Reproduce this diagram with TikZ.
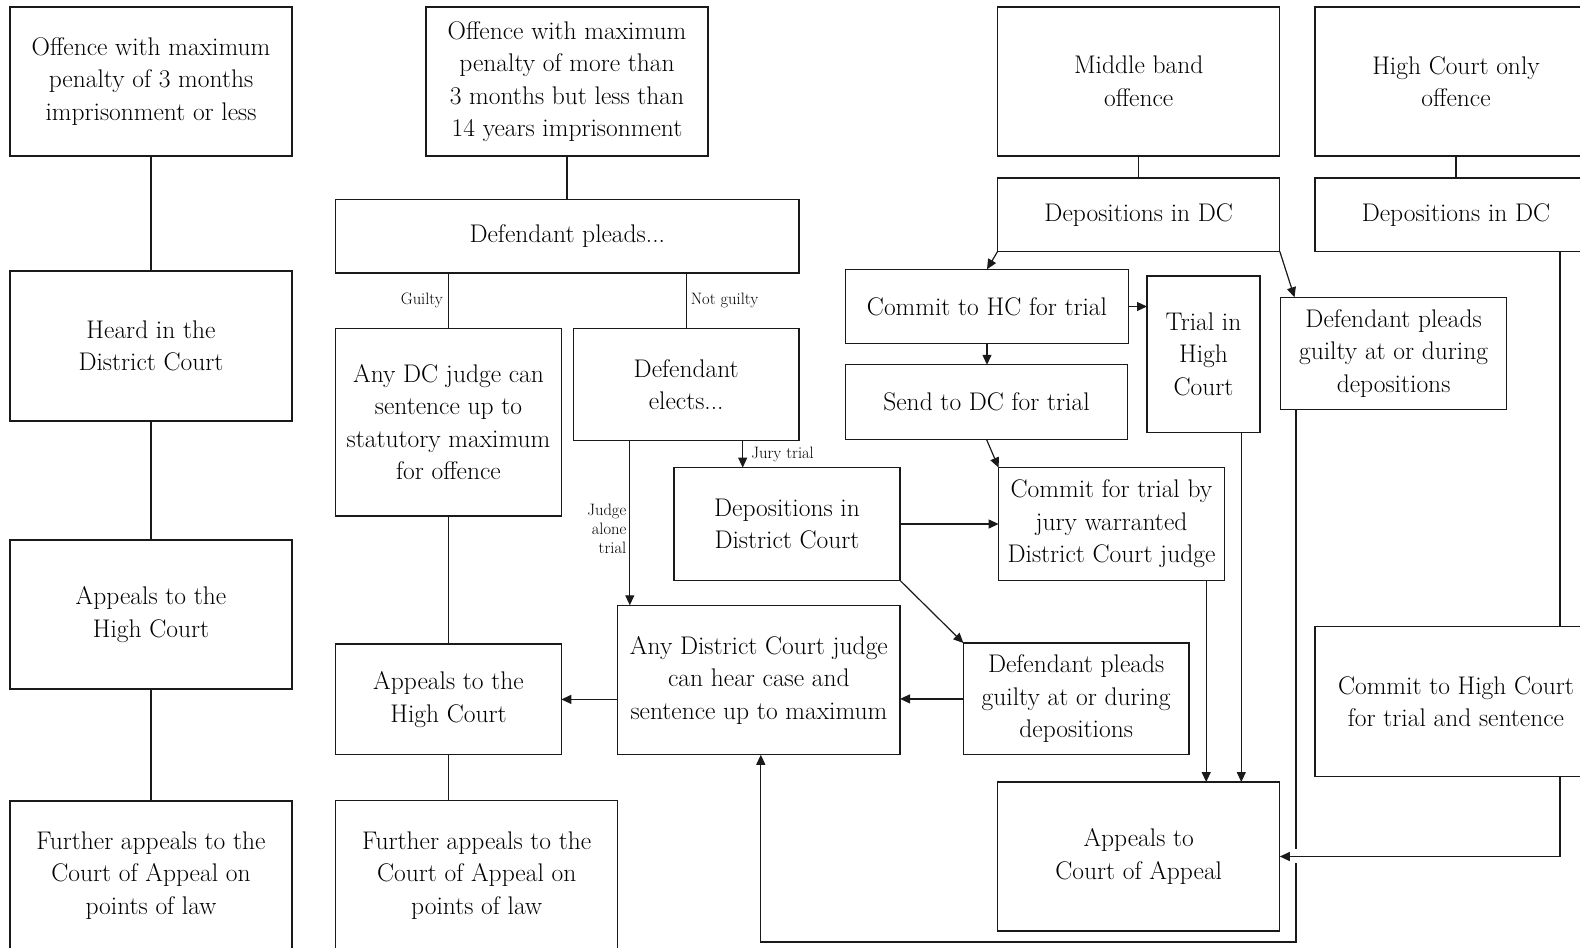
\documentclass[tikz,border=0pt]{standalone}
\usetikzlibrary{arrows.meta,calc}
\definecolor{ink}{HTML}{1A1A1A}
\begin{document}
\begin{tikzpicture}[x=1pt,y=-1pt,
  box/.style={draw=ink, line width=1.2pt, align=center, inner sep=0pt, outer sep=0pt,
    font=\fontsize{25.5}{32.5}\selectfont, text=black},
  lbl/.style={font=\fontsize{16.5}{18.7}\selectfont, text=black, align=right},
  con/.style={draw=ink, line width=1.2pt},
  arr/.style={con, -{Triangle[length=10pt,width=9pt]}}]
\fill[white] (0,0) rectangle (1580,948);
\useasboundingbox (0,0) rectangle (1580,948);
\clip (0,0) rectangle (1580,948);

% column A
\node[box, minimum width=282pt, minimum height=149pt] (A1) at (151,81.5) {Offence with maximum\\penalty of 3 months\\imprisonment or less};
\node[box, minimum width=282pt, minimum height=150pt] (A2) at (151,346) {Heard in the\\District Court};
\node[box, minimum width=282pt, minimum height=149pt] (A3) at (151,614.5) {Appeals to the\\High Court};
\node[box, minimum width=282pt, minimum height=149pt] (A4) at (151,875.5) {Further appeals to the\\Court of Appeal on\\points of law};

% column B
\node[box, minimum width=282pt, minimum height=149pt] (B1) at (567,81.5) {Offence with maximum\\penalty of more than\\3 months but less than\\14 years imprisonment};
\node[box, minimum width=463.4pt, minimum height=73.5pt] (B2) at (567.3,236.3) {Defendant pleads...};
\node[box, minimum width=225.7pt, minimum height=187.5pt] (B3) at (448.5,422.3) {Any DC judge can\\sentence up to\\statutory maximum\\for offence};
\node[box, minimum width=225.6pt, minimum height=112pt] (B4) at (686.2,384.5) {Defendant\\elects...};
\node[box, minimum width=225.7pt, minimum height=110.8pt] (B5) at (448.5,699.4) {Appeals to the\\High Court};
\node[box, minimum width=282pt, minimum height=150pt] (B6) at (476.7,875.5) {Further appeals to the\\Court of Appeal on\\points of law};

% column C
\node[box, minimum width=226pt, minimum height=112.8pt] (C1) at (787,524) {Depositions in\\District Court};
\node[box, minimum width=282.3pt, minimum height=149.5pt] (C2) at (758.9,680) {Any District Court judge\\can hear case and\\sentence up to maximum};
\node[box, minimum width=225.6pt, minimum height=111.8pt] (C3) at (1076.2,698.9) {Defendant pleads\\guilty at or during\\depositions};

% column D
\node[box, minimum width=282.2pt, minimum height=149pt] (D1) at (1138.7,81.5) {Middle band\\offence};
\node[box, minimum width=282.2pt, minimum height=73.5pt] (D2) at (1138.7,214.7) {Depositions in DC};
\node[box, minimum width=283pt, minimum height=74.5pt] (D3) at (987,306.5) {Commit to HC for trial};
\node[box, minimum width=113pt, minimum height=156.5pt] (D4) at (1203.5,354.3) {Trial in\\High\\Court};
\node[box, minimum width=282pt, minimum height=74.6pt] (D5) at (986.5,402.1) {Send to DC for trial};
\node[box, minimum width=225.8pt, minimum height=112.8pt] (D6) at (1111.5,524) {Commit for trial by\\jury warranted\\District Court judge};
\node[box, minimum width=282.2pt, minimum height=149pt] (D7) at (1138.7,856.5) {Appeals to\\Court of Appeal};
\node[box, minimum width=225.7pt, minimum height=112.2pt] (E3) at (1393.6,353.4) {Defendant pleads\\guilty at or during\\depositions};

% column F
\node[box, minimum width=282pt, minimum height=149pt] (F1) at (1456,81.5) {High Court only\\offence};
\node[box, minimum width=282pt, minimum height=73.5pt] (F2) at (1456,214.7) {Depositions in DC};
\node[box, minimum width=282pt, minimum height=149.7pt] (F3) at (1456,701.6) {Commit to High Court\\for trial and sentence};

% helper coordinates
\coordinate (jx) at (629.8,0);
\coordinate (kx) at (742.7,0);
\coordinate (cx1) at (1206.2,0);
\coordinate (cx2) at (1241.3,0);
\coordinate (ex) at (1296,942);
\coordinate (g1) at (1296,849);
\coordinate (g2) at (1296,863);
\coordinate (rx) at (760.8,942);
\coordinate (fx) at (1560,0);
\coordinate (e3t) at (1294.5,0);

% column A connectors
\draw[con] (A1.south) -- (A2.north);
\draw[con] (A2.south) -- (A3.north);
\draw[con] (A3.south) -- (A4.north);

% column B connectors
\draw[con] (B1.south) -- (B1.south |- B2.north);
\draw[con] (B2.south -| B3.north) -- (B3.north) node[lbl, midway, left, inner sep=5pt] (gl) {Guilty};
\draw[con] (B2.south -| B4.north) -- (B4.north) node[lbl, midway, right, inner sep=4pt, align=left] (ngl) {Not guilty};
\draw[con] (B3.south) -- (B5.north);
\draw[con] (B5.south) -- (B5.south |- B6.north);
\draw[arr] (B4.south -| jx) -- (C2.north -| jx) node[lbl, pos=0.535, left, inner sep=3pt] (jl) {Judge\\alone\\trial};
\draw[arr] (B4.south -| kx) -- (C1.north -| kx) node[lbl, midway, right, inner sep=8pt, align=left] (jt) {Jury trial};

% column C connectors
\draw[arr] (C1.east) -- (D6.west);
\draw[arr] (C1.south east) -- (C3.north west);
\draw[arr] (C3.west) -- (C3.west -| C2.east);
\draw[arr] (B5.east -| C2.west) -- (B5.east);

% column D connectors
\draw[con] (D1.south) -- (D2.north);
\draw[arr] (D2.south west) -- (D3.north);
\draw[arr] (D2.south east) -- (E3.north -| e3t);
\draw[arr] (D3.east) -- (D3.east -| D4.west);
\draw[arr] (D3.south) -- (D3.south |- D5.north);
\draw[arr] (D5.south) -- (D6.north west);
\draw[arr] (D6.south -| cx1) -- (D7.north -| cx1);
\draw[arr] (D4.south -| cx2) -- (D7.north -| cx2);

% return path from E3
\draw[con] (E3.south -| ex) -- (g1);
\draw[arr] (g2) -- (ex) -- (rx) -- (C2.south -| rx);

% column F connectors
\draw[con] (F1.south) -- (F2.north);
\draw[con] (F2.south -| fx) -- (F3.north -| fx);
\draw[arr] (F3.south -| fx) |- (D7.east);
\end{tikzpicture}
\end{document}
